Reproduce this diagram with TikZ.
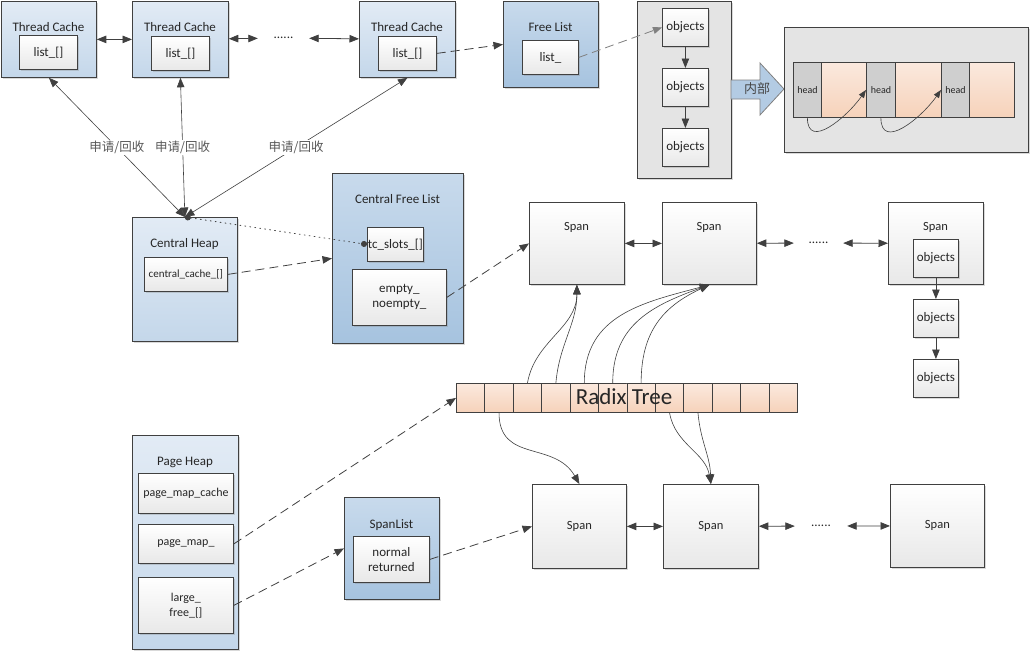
\documentclass[tikz,border=0pt]{standalone}
\usepackage{fontspec}
\setmainfont{Carlito}
\newfontfamily\cjk{Noto Sans CJK SC}
\usepackage{tikz}
\usetikzlibrary{positioning}
\usetikzlibrary{arrows.meta}
\usetikzlibrary{shadows}
\definecolor{edge}{HTML}{404040}
\definecolor{txt}{HTML}{262626}
\definecolor{tagc}{HTML}{595959}
\definecolor{lbt}{HTML}{E2EBF5}
\definecolor{lbb}{HTML}{C4D7EA}
\definecolor{dbt}{HTML}{C8DAEC}
\definecolor{dbb}{HTML}{A6C3DF}
\definecolor{wbb}{HTML}{E8E8E8}
\definecolor{gbg}{HTML}{E4E4E4}
\definecolor{pkt}{HTML}{FBE9DE}
\definecolor{pkb}{HTML}{F6D2BA}
\definecolor{hdg}{HTML}{CFCFCF}
\definecolor{bigarr}{HTML}{B3CBE3}
\tikzset{
  box/.style={draw=edge,line width=0.8pt,anchor=north west,inner sep=0pt,
    drop shadow={shadow xshift=1.5pt,shadow yshift=-1.5pt,opacity=0.3}},
  lightbox/.style={box,top color=lbt,bottom color=lbb},
  darkbox/.style={box,top color=dbt,bottom color=dbb},
  membox/.style={box,top color=white,bottom color=wbb,align=center,text=txt,
    font=\fontsize{13}{15}\selectfont},
  spanbox/.style={box,top color=white,bottom color=wbb,text=txt,
    font=\fontsize{12.5}{15}\selectfont},
  graybox/.style={box,fill=gbg},
  cellbox/.style={draw=edge,line width=0.8pt,anchor=north west,inner sep=0pt,
    top color=pkt,bottom color=pkb},
  headbox/.style={draw=edge,line width=0.8pt,anchor=north west,inner sep=0pt,
    fill=hdg,text=txt,font=\fontsize{10}{12}\selectfont},
  title/.style={text=txt,font=\fontsize{13}{15}\selectfont},
  dots/.style={text=txt,inner sep=0pt,minimum height=10pt,font=\fontsize{13}{15}\selectfont},
  link/.style={draw=edge,line width=0.8pt},
  dlink/.style={link,dash pattern=on 9pt off 5pt},
  tag/.style={fill=white,text=tagc,inner sep=1pt,font=\cjk\fontsize{12.5}{14}\selectfont}
}
\begin{document}
\begin{tikzpicture}[x=1pt,y=-1pt,>={Triangle[length=9.5pt,width=7.5pt]}]
\useasboundingbox (0,0) rectangle (1031,653);

\node [lightbox,minimum width=95pt,minimum height=76pt] (tc1) at (1,1) {};
\node [title] (tc1t) at (48.5,27) {Thread Cache};
\node [membox,minimum width=58pt,minimum height=34pt] (tc1l) at (19,35) {list\_[]};
\node [lightbox,minimum width=96pt,minimum height=76pt] (tc2) at (132,1) {};
\node [title] (tc2t) at (180,27) {Thread Cache};
\node [membox,minimum width=58pt,minimum height=34pt] (tc2l) at (151,36) {list\_[]};
\node [lightbox,minimum width=96pt,minimum height=76pt] (tc3) at (359,1) {};
\node [title] (tc3t) at (407,27) {Thread Cache};
\node [membox,minimum width=58pt,minimum height=34pt] (tc3l) at (378,36) {list\_[]};
\node [dots,minimum width=51pt] (tcd) at (283.5,38) {......};
\draw [link,<->] (tc1)--(tc2);
\draw [link,<->] (tc2)--(tcd);
\draw [link,<->] (tcd)--(tc3);

\node [darkbox,minimum width=95pt,minimum height=86pt] (fl) at (503,1) {};
\node [title] (flt) at (550.5,27) {Free List};
\node [membox,minimum width=56pt,minimum height=34pt] (fll) at (522,40) {list\_};
\draw [dlink,->] (tc3l.east)--(fl.west);

\node [graybox,minimum width=94pt,minimum height=177pt] (obc) at (637,1) {};
\node [membox,minimum width=46pt,minimum height=38pt] (ob1) at (662,8) {objects};
\node [membox,minimum width=46pt,minimum height=38pt] (ob2) at (662,68) {objects};
\node [membox,minimum width=46pt,minimum height=38pt] (ob3) at (662,128) {objects};
\draw [link,->] (ob1)--(ob2);
\draw [link,->] (ob2)--(ob3);
\draw [dlink,draw=gray,->,>={Triangle[length=9pt,width=7pt,fill=gray]}] (fll.east)--(ob1.west);

\draw [draw=gray,line width=0.8pt,fill=bigarr] (731,80)--(760,80)--(760,63)--(784,89)--(760,115)--(760,99)--(731,99)--cycle;
\node [text=txt!85,font=\cjk\fontsize{13}{15}\selectfont] (inner) at (757,89) {内部};

\node [graybox,minimum width=244pt,minimum height=125pt] (hc) at (784,27) {};
\node [headbox,minimum width=28pt,minimum height=55pt] (hd1) at (793,62) {head};
\node [cellbox,minimum width=45pt,minimum height=55pt] (pc1) at (821,62) {};
\node [headbox,minimum width=29pt,minimum height=55pt] (hd2) at (866,62) {head};
\node [cellbox,minimum width=46pt,minimum height=55pt] (pc2) at (895,62) {};
\node [headbox,minimum width=28pt,minimum height=55pt] (hd3) at (941,62) {head};
\node [cellbox,minimum width=45pt,minimum height=55pt] (pc3) at (969,62) {};
\draw [link,line width=0.6pt,->,>={Triangle[length=8pt,width=6pt]}] (hd1.south) to[out=-90,in=-125,looseness=1.3] (hd2.west);
\draw [link,line width=0.6pt,->,>={Triangle[length=8pt,width=6pt]}] (hd2.south) to[out=-90,in=-125,looseness=1.3] (hd3.west);

\node [lightbox,minimum width=105pt,minimum height=124pt] (ch) at (132,217) {};
\node [title] (cht) at (184.5,244) {Central Heap};
\node [membox,minimum width=83pt,minimum height=34pt,font=\fontsize{11}{13}\selectfont] (chc) at (144,257) {central\_cache\_[]};
\draw [link,line width=0.6pt,<->] (ch.north)--node [tag] {申请/回收} (tc1.south);
\draw [link,line width=0.6pt,<->] (ch.north)--node [tag] {申请/回收} (tc2.south);
\draw [link,line width=0.6pt,<->] (ch.north)--node [tag] {申请/回收} (tc3.south);

\node [darkbox,minimum width=131pt,minimum height=170pt] (cfl) at (332,173) {};
\node [title] (cflt) at (397.5,199) {Central Free List};
\node [membox,minimum width=56pt,minimum height=34pt] (tcs) at (367,227) {tc\_slots\_[]};
\node [membox,minimum width=94pt,minimum height=56pt] (emp) at (352,269) {empty\_\\noempty\_};
\draw [link,line width=0.8pt,dash pattern=on 1pt off 4pt,line cap=round,{Circle[length=6pt]}-{Circle[length=6pt]}] (ch.north)--(tcs.west);
\draw [dlink,->] (chc.east)--(cfl.west);

\node [spanbox,minimum width=95pt,minimum height=82pt] (sp1) at (529,202) {};
\node [title,font=\fontsize{12.5}{15}\selectfont] (sp1t) at (576.5,227) {Span};
\node [spanbox,minimum width=94pt,minimum height=82pt] (sp2) at (662,202) {};
\node [title,font=\fontsize{12.5}{15}\selectfont] (sp2t) at (709,227) {Span};
\node [spanbox,minimum width=95pt,minimum height=82pt] (sp6) at (888,202) {};
\node [title,font=\fontsize{12.5}{15}\selectfont] (sp6t) at (935.5,227) {Span};
\node [membox,minimum width=45pt,minimum height=38pt] (so1) at (913,239) {objects};
\node [membox,minimum width=45pt,minimum height=38pt] (so2) at (913,299) {objects};
\node [membox,minimum width=45pt,minimum height=38pt] (so3) at (913,359) {objects};
\node [dots,minimum width=49pt] (spd1) at (818.5,243) {......};
\draw [link,<->] (sp1)--(sp2);
\draw [link,<->] (sp2)--(spd1);
\draw [link,<->] (spd1)--(sp6);
\draw [link,->] (so1)--(so2);
\draw [link,->] (so2)--(so3);
\draw [dlink,->] (emp.east)--(sp1.west);

\foreach \i in {0,...,11}
  \node [cellbox,minimum width=28.42pt,minimum height=29pt] (r\i) at (456+28.42*\i,383) {};
\node [text=txt,font=\fontsize{23}{26}\selectfont] (rt) at (624,397) {Radix Tree};
\draw [link,line width=0.6pt,->] (r2.north) to[out=80,in=-90] (sp1.south);
\draw [link,line width=0.6pt,->] (r3.north) to[out=85,in=-90] (sp1.south);
\draw [link,line width=0.6pt,->] (r4.north) to[out=90,in=-165,looseness=1.1] (sp2.south);
\draw [link,line width=0.6pt,->] (r5.north) to[out=90,in=-160,looseness=1.1] (sp2.south);
\draw [link,line width=0.6pt,->] (r6.north) to[out=90,in=-155,looseness=1.1] (sp2.south);

\node [spanbox,minimum width=94pt,minimum height=84pt] (sp3) at (532,484) {Span};
\node [spanbox,minimum width=95pt,minimum height=84pt] (sp4) at (663,484) {Span};
\node [spanbox,minimum width=94pt,minimum height=83pt] (sp5) at (890,484) {Span};
\node [dots,minimum width=52pt] (spd2) at (821,526) {......};
\draw [link,<->] (sp3)--(sp4);
\draw [link,<->] (sp4)--(spd2);
\draw [link,<->] (spd2)--(sp5);
\draw [link,line width=0.6pt,->] (r1.south) to[out=-90,in=120,looseness=1.2] (sp3.north);
\draw [link,line width=0.6pt,->] (r7.south) to[out=-80,in=100] (sp4.north);
\draw [link,line width=0.6pt,->] (r8.south) to[out=-85,in=92] (sp4.north);

\node [lightbox,minimum width=106pt,minimum height=214pt] (ph) at (132,435) {};
\node [title] (pht) at (185,462) {Page Heap};
\node [membox,minimum width=95pt,minimum height=40pt,font=\fontsize{12}{14}\selectfont] (pmc) at (138,473) {page\_map\_cache};
\node [membox,minimum width=95pt,minimum height=39pt,font=\fontsize{12}{14}\selectfont] (pm) at (138,524) {page\_map\_};
\node [membox,minimum width=95pt,minimum height=56pt,font=\fontsize{12}{15}\selectfont] (lf) at (138,577) {large\_\\free\_[]};
\node [darkbox,minimum width=95pt,minimum height=102pt] (sl) at (344,497) {};
\node [title] (slt) at (391.5,525) {SpanList};
\node [membox,minimum width=76pt,minimum height=46pt] (nr) at (353,536) {normal\\returned};
\draw [dlink,->] (pm.east)--(r0.west);
\draw [dlink,->] (lf.east)--(sl.west);
\draw [dlink,->] (nr.east)--(sp3.west);
\end{tikzpicture}
\end{document}
